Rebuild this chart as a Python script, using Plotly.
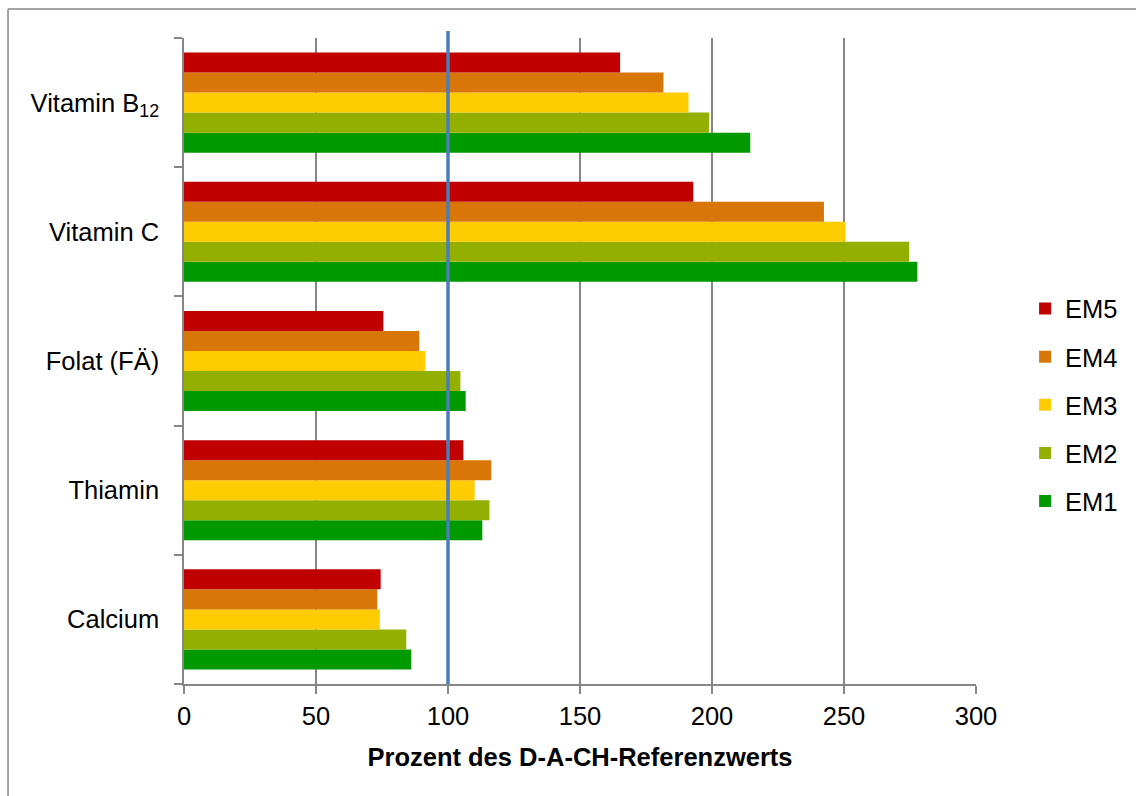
import plotly.graph_objects as go

categories = ["Calcium", "Thiamin", "Folat (FÄ)", "Vitamin C", "Vitamin B<sub>12</sub>"]
series_names = ["EM1", "EM2", "EM3", "EM4", "EM5"]
em1 = [86.1, 113.0, 106.7, 277.8, 214.5]
em2 = [84.2, 115.7, 104.7, 274.7, 198.9]
em3 = [74.2, 110.1, 91.4, 250.6, 191.1]
em4 = [73.2, 116.4, 89.1, 242.4, 181.6]
em5 = [74.5, 105.8, 75.5, 192.9, 165.2]
series_values = [em1, em2, em3, em4, em5]
colors = ["#009900", "#93B000", "#FFCC00", "#D87607", "#C00000"]
x_ticks = [0, 50, 100, 150, 200, 250, 300]
reference_value = 100

fig = go.Figure()
for i, (name, vals, col) in enumerate(zip(series_names, series_values, colors)):
    fig.add_trace(go.Bar(
        y=categories, x=vals, name=name, orientation="h",
        marker=dict(color=col, line=dict(width=0)),
        legendgroup=name, legendrank=1000 - i,
    ))

grey = "#868686"
fs = 25.5
fig.update_layout(
    width=1136, height=796,
    margin=dict(l=184, r=160, t=38, b=112),
    paper_bgcolor="white", plot_bgcolor="white",
    barmode="group", bargap=0.225, bargroupgap=0,
    font=dict(family="Liberation Sans, Arial, sans-serif", size=fs, color="black"),
    xaxis=dict(
        range=[0, 300], tickvals=x_ticks, showgrid=True, gridcolor=grey, gridwidth=1.5,
        zeroline=False, showline=True, linecolor=grey, linewidth=2,
        ticks="outside", ticklen=8, tickcolor=grey, tickwidth=1.5,
        tickfont=dict(size=fs),
        title=dict(text="<b>Prozent des D-A-CH-Referenzwerts</b>", font=dict(size=fs), standoff=20),
    ),
    yaxis=dict(
        range=[-0.5, 4.5], showgrid=False, zeroline=False,
        showline=True, linecolor=grey, linewidth=1.5,
        ticks="outside", ticklen=8, tickcolor=grey, tickwidth=1.5, tickson="boundaries",
        tickfont=dict(size=fs), ticklabelstandoff=18,
    ),
    legend=dict(
        x=1.062, xanchor="left", y=0.432, yanchor="middle",
        traceorder="grouped", tracegroupgap=12,
        font=dict(size=fs), bgcolor="rgba(0,0,0,0)",
    ),
    showlegend=True,
)

fig.add_shape(type="line", xref="x", yref="paper", x0=reference_value, x1=reference_value,
              y0=0, y1=1.011, line=dict(color="#4A7EBB", width=3.5), layer="above")
# outer frame
fig.add_shape(type="line", xref="paper", yref="paper", x0=-0.2222, x1=1.25, y0=1.0449, y1=1.0449,
              line=dict(color=grey, width=1.5))
fig.add_shape(type="line", xref="paper", yref="paper", x0=-0.2222, x1=-0.2222, y0=1.0449, y1=-0.25,
              line=dict(color=grey, width=1.5))

fig.write_html("out.html")
